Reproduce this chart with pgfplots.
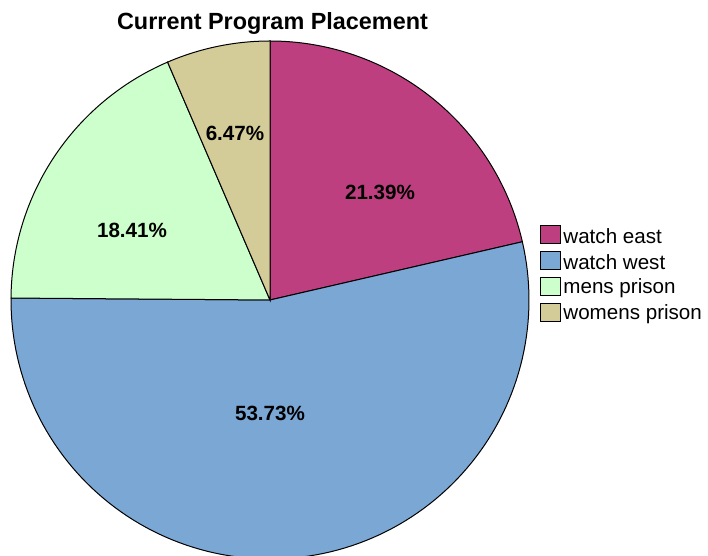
\documentclass[border=0pt]{standalone}
\usepackage{fontspec}
\setmainfont{Liberation Sans}
\usepackage{pgfplots}
\pgfplotsset{compat=1.18}

\definecolor{east}{RGB}{190,63,127}
\definecolor{west}{RGB}{123,167,213}
\definecolor{mens}{RGB}{204,255,204}
\definecolor{womens}{RGB}{211,204,153}

% shares in percent, clockwise from 12 o'clock
\def\pEast{21.39}
\def\pWest{53.73}
\def\pMens{18.41}
\def\pWomens{6.47}

\pgfmathsetmacro{\aA}{90}
\pgfmathsetmacro{\aB}{\aA-3.6*\pEast}
\pgfmathsetmacro{\aC}{\aB-3.6*\pWest}
\pgfmathsetmacro{\aD}{\aC-3.6*\pMens}
\pgfmathsetmacro{\aE}{\aD-3.6*\pWomens}

\newcommand{\pieslice}[3]{%
  \addplot[fill=#1, draw=black, line width=0.5pt, domain=#3:#2, samples=120, variable=\t]
    ({270+259*cos(\t)},{256+259*sin(\t)}) -- (axis cs:270,256) -- cycle;}

\begin{document}
\begin{tikzpicture}
\fontsize{10.3}{12}\selectfont
\begin{axis}[
  scale only axis,
  width=354pt, height=278pt,
  xmin=0, xmax=708, ymin=0, ymax=556,
  hide axis,
  clip=true,
]
  \pieslice{east}{\aA}{\aB}
  \pieslice{west}{\aB}{\aC}
  \pieslice{mens}{\aC}{\aD}
  \pieslice{womens}{\aD}{\aE}

  \node[font=\bfseries] at (axis cs:380,364) {\pEast\%};
  \node[font=\bfseries] at (axis cs:270,143) {\pWest\%};
  \node[font=\bfseries] at (axis cs:132,326) {\pMens\%};
  \node[font=\bfseries] at (axis cs:235,423) {\pWomens\%};

  \node[font=\bfseries\fontsize{11.7}{13}\selectfont] at (axis cs:272.5,532) {Current Program Placement};

  \draw[fill=east, line width=0.5pt] (axis cs:540,312) rectangle (axis cs:560,330);
  \draw[fill=west, line width=0.5pt] (axis cs:540,286) rectangle (axis cs:560,304);
  \draw[fill=mens, line width=0.5pt] (axis cs:540,260) rectangle (axis cs:560,278);
  \draw[fill=womens, line width=0.5pt] (axis cs:540,234) rectangle (axis cs:560,252);
  \node[anchor=west, inner sep=0pt] at (axis cs:563,320) {watch east};
  \node[anchor=west, inner sep=0pt] at (axis cs:563,294) {watch west};
  \node[anchor=west, inner sep=0pt] at (axis cs:563,268) {mens prison};
  \node[anchor=west, inner sep=0pt] at (axis cs:563,242) {womens prison};
\end{axis}
\pgfresetboundingbox
\path[use as bounding box] (current axis.south west) rectangle (current axis.north east);
\end{tikzpicture}
\end{document}
